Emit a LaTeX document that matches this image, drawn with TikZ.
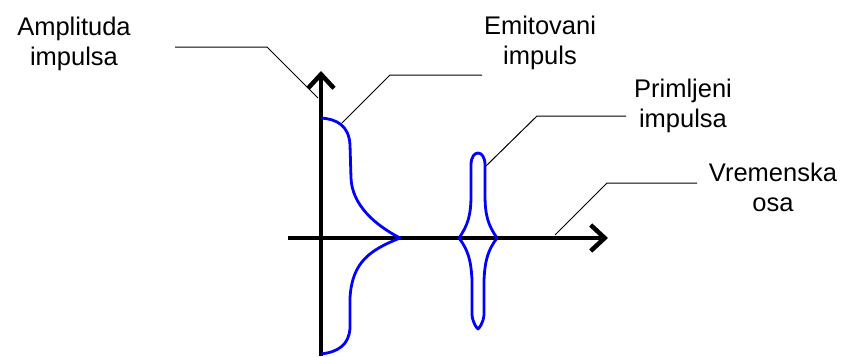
\documentclass[tikz,border=0pt]{standalone}
\usepackage{fontspec}
\setmainfont{Liberation Sans}
\usetikzlibrary{arrows.meta,positioning}

\begin{document}
\begin{tikzpicture}[
    x=1pt, y=-1pt,
    axis/.style={line width=4.5pt, -{Straight Barb[length=14pt, width=26pt]}},
    pulse/.style={draw=blue, line width=2.8pt, line join=round},
    leader/.style={draw, line width=1pt},
    label/.style={align=center, inner sep=0pt, font=\fontsize{25.5}{30}\selectfont}
]
    \useasboundingbox (0,0) rectangle (848,356);

    % --- Axes ---
    \coordinate (xstart) at (288,238);
    \coordinate (xend) at (608,238);
    \coordinate (ystart) at (321,356);
    \coordinate (yend) at (321,71);
    \draw[axis] (xstart) -- (xend);
    \draw[axis] (ystart) -- (yend);

    % --- Emitted pulse ---
    \draw[pulse] (321,118) .. controls (336,119) and (349,125) .. (350,145)
        -- (351,178) .. controls (352,205) and (375,225) .. (400,238)
        .. controls (370,250) and (352,262) .. (350,298)
        -- (350,328) .. controls (349,345) and (338,352) .. (321,354);

    % --- Received pulse ---
    \draw[pulse] (459,238) .. controls (468,225) and (471,215) .. (471,195)
        -- (471,165) .. controls (471,149) and (485,149) .. (485,165)
        -- (485,195) .. controls (485,215) and (488,225) .. (497,238)
        .. controls (488,250) and (485,260) .. (484,280)
        -- (484,315) .. controls (483,324) and (479,328) .. (478,329)
        .. controls (477,328) and (473,324) .. (472,315)
        -- (472,280) .. controls (471,260) and (468,250) .. (459,238);

    % --- Labels ---
    \node[label] (amp) at (74,44) {Amplituda\\impulsa};
    \node[label] (emit) at (540,43) {Emitovani\\impuls};
    \node[label] (recv) at (683,106) {Primljeni\\impulsa};
    \node[label] (time) at (773,187) {Vremenska\\osa};

    % Leader lines
    \coordinate (amp1) at (175,47);
    \coordinate (amp2) at (267,47);
    \coordinate (amp3) at (318,98);
    \draw[leader] (amp1) -- (amp2) -- (amp3);

    \coordinate (emit1) at (342,123);
    \coordinate (emit2) at (390,75);
    \coordinate (emit3) at (482,75);
    \draw[leader] (emit1) -- (emit2) -- (emit3);

    \coordinate (recv1) at (486,166);
    \coordinate (recv2) at (537,116);
    \coordinate (recv3) at (626,116);
    \draw[leader] (recv1) -- (recv2) -- (recv3);

    \coordinate (time1) at (555,235);
    \coordinate (time2) at (607,183);
    \coordinate (time3) at (697,183);
    \draw[leader] (time1) -- (time2) -- (time3);

\end{tikzpicture}
\end{document}
